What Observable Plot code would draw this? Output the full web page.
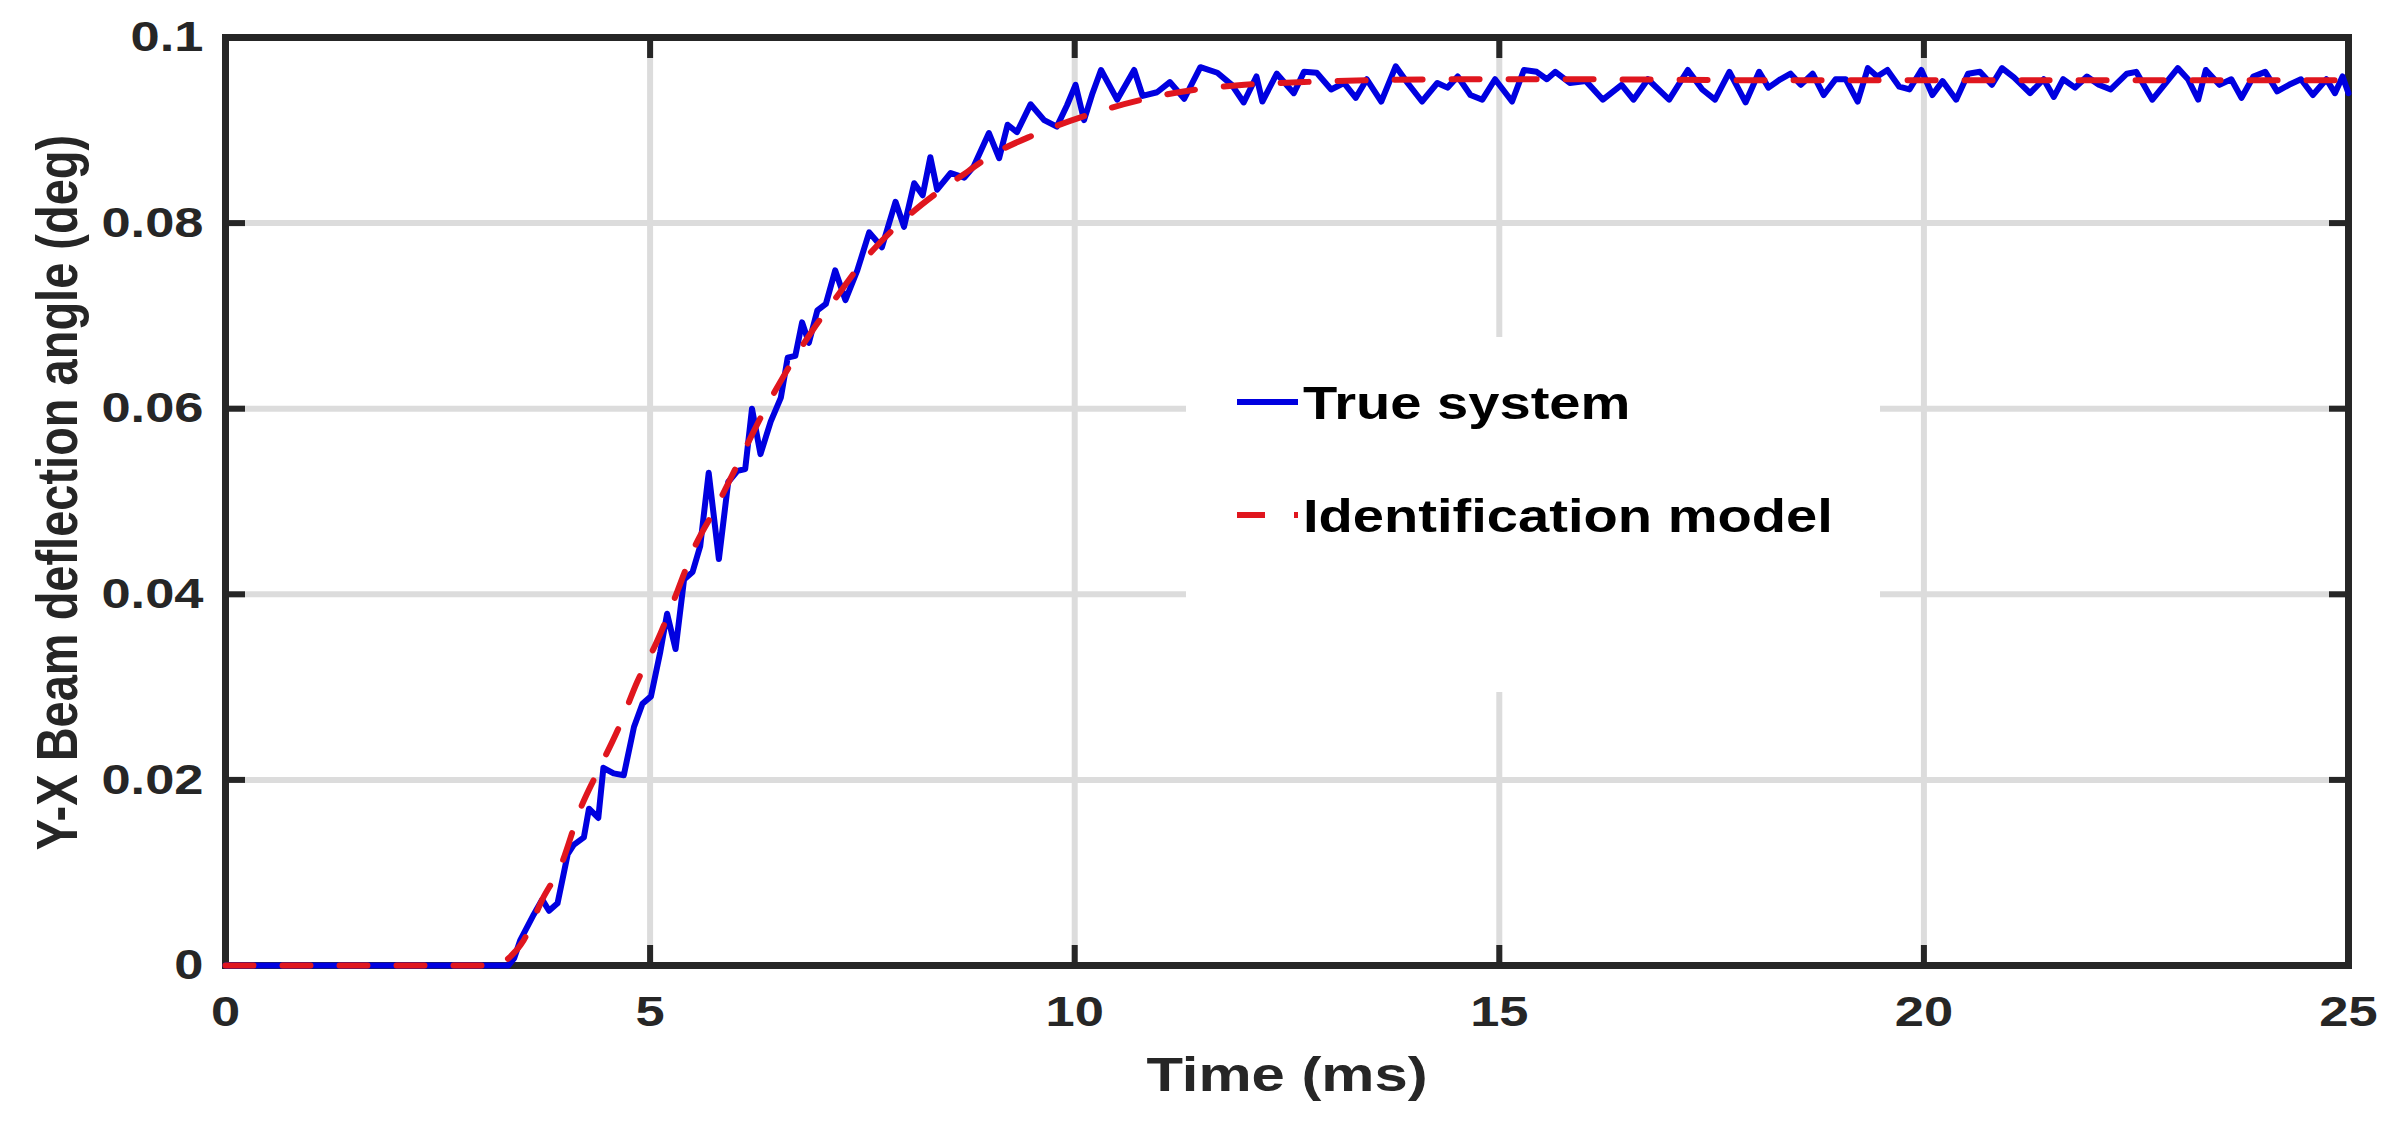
<!DOCTYPE html>
<html>
<head>
<meta charset="utf-8">
<script src="https://cdn.jsdelivr.net/npm/d3@7"></script>
<script src="https://cdn.jsdelivr.net/npm/@observablehq/plot@0.6"></script>
<style>
html, body { margin: 0; padding: 0; background: #fff; overflow: hidden; }
#wrap { position: relative; width: 2401px; height: 1123px; background: #fff; }
#wrap > svg { display: block; }
#legend { position: absolute; left: 1186px; top: 337px; width: 694px; height: 355px; background: #fff; }
</style>
</head>
<body>
<div id="wrap"><div id="legend"></div></div>
<script>
// ---- data ----
const xTicks = [0, 5, 10, 15, 20, 25];
const yTicks = [0, 0.02, 0.04, 0.06, 0.08, 0.1];
const xLabel = "Time (ms)";
const yLabel = "Y-X Beam deflection angle (deg)";
const seriesNames = ["True system", "Identification model"];
const seriesColors = ["#0000e0", "#e0161e"];

const trueT = [0, 3.33, 3.40, 3.47, 3.63, 3.73, 3.81, 3.91, 4.03, 4.10, 4.22, 4.28, 4.39, 4.45, 4.57, 4.69, 4.81, 4.91, 5.01, 5.12, 5.20, 5.30, 5.40, 5.50, 5.59, 5.69, 5.81, 5.92, 6.03, 6.12, 6.20, 6.30, 6.42, 6.54, 6.62, 6.71, 6.79, 6.87, 6.97, 7.07, 7.18, 7.30, 7.44, 7.58, 7.73, 7.89, 7.99, 8.11, 8.21, 8.30, 8.38, 8.54, 8.70, 8.81, 8.99, 9.11, 9.21, 9.32, 9.48, 9.64, 9.79, 9.91, 10.01, 10.11, 10.21, 10.31, 10.50, 10.70, 10.80, 10.97, 11.12, 11.29, 11.48, 11.68, 11.85, 11.99, 12.14, 12.21, 12.38, 12.58, 12.70, 12.85, 13.02, 13.17, 13.31, 13.44, 13.61, 13.78, 13.92, 14.09, 14.27, 14.39, 14.51, 14.66, 14.80, 14.95, 15.15, 15.29, 15.44, 15.56, 15.66, 15.83, 16.02, 16.22, 16.44, 16.58, 16.75, 17.00, 17.22, 17.39, 17.54, 17.71, 17.90, 18.06, 18.17, 18.31, 18.43, 18.55, 18.69, 18.82, 18.96, 19.08, 19.22, 19.34, 19.45, 19.57, 19.71, 19.83, 19.97, 20.10, 20.22, 20.38, 20.52, 20.66, 20.80, 20.92, 21.06, 21.25, 21.41, 21.53, 21.64, 21.78, 21.92, 22.06, 22.20, 22.39, 22.50, 22.69, 22.85, 22.99, 23.11, 23.23, 23.32, 23.48, 23.62, 23.74, 23.88, 24.02, 24.16, 24.30, 24.44, 24.58, 24.74, 24.84, 24.93, 25.00];
const trueV = [0, 0, 0.0008, 0.0027, 0.0055, 0.0071, 0.0059, 0.0067, 0.0120, 0.0130, 0.0138, 0.0169, 0.0159, 0.0213, 0.0207, 0.0205, 0.0257, 0.0282, 0.0290, 0.0338, 0.0379, 0.0341, 0.0416, 0.0424, 0.0452, 0.0531, 0.0438, 0.0521, 0.0533, 0.0535, 0.0600, 0.0551, 0.0586, 0.0612, 0.0655, 0.0657, 0.0693, 0.0671, 0.0706, 0.0713, 0.0749, 0.0717, 0.0749, 0.0790, 0.0774, 0.0823, 0.0796, 0.0843, 0.0830, 0.0871, 0.0836, 0.0854, 0.0849, 0.0861, 0.0897, 0.0870, 0.0906, 0.0898, 0.0928, 0.0911, 0.0904, 0.0927, 0.0949, 0.0911, 0.0940, 0.0965, 0.0933, 0.0965, 0.0937, 0.0941, 0.0952, 0.0934, 0.0968, 0.0962, 0.0949, 0.0930, 0.0958, 0.0931, 0.0961, 0.0940, 0.0963, 0.0962, 0.0944, 0.0951, 0.0935, 0.0955, 0.0931, 0.0969, 0.0951, 0.0931, 0.0951, 0.0946, 0.0958, 0.0938, 0.0933, 0.0955, 0.0931, 0.0965, 0.0963, 0.0955, 0.0963, 0.0951, 0.0953, 0.0933, 0.0949, 0.0933, 0.0955, 0.0933, 0.0965, 0.0944, 0.0933, 0.0963, 0.0930, 0.0963, 0.0946, 0.0955, 0.0961, 0.0949, 0.0961, 0.0938, 0.0955, 0.0955, 0.0931, 0.0967, 0.0958, 0.0965, 0.0947, 0.0944, 0.0965, 0.0938, 0.0953, 0.0933, 0.0961, 0.0963, 0.0949, 0.0967, 0.0957, 0.0940, 0.0955, 0.0936, 0.0955, 0.0946, 0.0958, 0.0949, 0.0944, 0.0961, 0.0963, 0.0933, 0.0951, 0.0967, 0.0955, 0.0933, 0.0965, 0.0949, 0.0955, 0.0935, 0.0958, 0.0963, 0.0942, 0.0949, 0.0955, 0.0938, 0.0955, 0.0940, 0.0958, 0.0940];

const modelT = [0, 3.22, 3.31, 3.51, 3.73, 3.95, 4.18, 4.40, 4.62, 4.85, 5.09, 5.32, 5.51, 5.79, 6.03, 6.30, 6.54, 6.91, 7.20, 7.52, 8.03, 8.34, 8.70, 9.00, 9.52, 10.17, 10.79, 11.44, 12.0, 12.7, 13.5, 14.5, 16, 18, 20, 22.5, 25];
const modelV = [0, 0, 0.0006, 0.0027, 0.0071, 0.0108, 0.0169, 0.0212, 0.0254, 0.0306, 0.0351, 0.0403, 0.0448, 0.0496, 0.0540, 0.0590, 0.0630, 0.0684, 0.0721, 0.0760, 0.0807, 0.0830, 0.0853, 0.0872, 0.0895, 0.0917, 0.0933, 0.0944, 0.0949, 0.0952, 0.0954, 0.0955, 0.0955, 0.0954, 0.0954, 0.0954, 0.0954];

const trueData = trueT.map((t, i) => ({t, v: trueV[i]}));
const modelData = modelT.map((t, i) => ({t, v: modelV[i]}));

const axisColor = "#262626";
const gridColor = "#dcdcdc";
const dash = "28,29";

const chart = Plot.plot({
  width: 2401,
  height: 1123,
  marginLeft: 225,
  marginRight: 53,
  marginTop: 37,
  marginBottom: 158,
  x: {domain: [0, 25]},
  y: {domain: [0, 0.1]},
  style: {
    fontFamily: "'Liberation Sans', Arial, sans-serif",
    fontWeight: "bold",
    fontSize: "43px",
    color: axisColor,
    background: "#fff"
  },
  marks: [
    Plot.gridX(xTicks.slice(1, -1), {stroke: gridColor, strokeOpacity: 1, strokeWidth: 6}),
    Plot.gridY(yTicks.slice(1, -1), {stroke: gridColor, strokeOpacity: 1, strokeWidth: 6}),
    Plot.frame({stroke: axisColor, strokeWidth: 7}),
    Plot.axisX(xTicks, {anchor: "bottom", tickSize: -20, tickPadding: 50, strokeWidth: 6, stroke: axisColor, tickFormat: d => String(d), label: null}),
    Plot.axisX(xTicks, {anchor: "top", tickSize: -20, strokeWidth: 6, stroke: axisColor, tickFormat: () => "", label: null}),
    Plot.axisY(yTicks, {anchor: "left", tickSize: -20, tickPadding: 42, strokeWidth: 6, stroke: axisColor, tickFormat: d => String(d), label: null}),
    Plot.axisY(yTicks, {anchor: "right", tickSize: -20, strokeWidth: 6, stroke: axisColor, tickFormat: () => "", label: null}),
    Plot.line(trueData, {x: "t", y: "v", stroke: seriesColors[0], strokeWidth: 6, strokeLinejoin: "round"}),
    Plot.line(modelData, {x: "t", y: "v", stroke: seriesColors[1], strokeWidth: 6, strokeDasharray: dash, curve: "monotone-x"}),
    Plot.text([xLabel], {text: d => d, frameAnchor: "bottom", dy: 125, lineAnchor: "bottom", textAnchor: "middle", fontSize: 49, fill: axisColor}),
    Plot.text([yLabel], {text: d => d, frameAnchor: "left", rotate: -90, dx: -167, dy: -9, lineAnchor: "middle", textAnchor: "middle", fontSize: 47, fill: axisColor})
  ]
});

const wrap = document.getElementById("wrap");
wrap.insertBefore(chart, wrap.firstChild);

// the reference figure is stretched horizontally: widen glyphs around their anchor
const stretch = 1.22;
chart.querySelectorAll("text").forEach(el => {
  if (!el.textContent) return;
  const bb = el.getBBox();
  const base = el.getAttribute("transform") || "";
  if (el.textContent === yLabel) {
    const cy = bb.y + bb.height / 2;
    el.setAttribute("transform", `${base} translate(0,${cy}) scale(1,${stretch}) translate(0,${-cy})`);
  } else {
    const ta = getComputedStyle(el).textAnchor;
    const ax = ta === "end" ? bb.x + bb.width : ta === "middle" ? bb.x + bb.width / 2 : bb.x;
    el.setAttribute("transform", `${base} translate(${ax},0) scale(${stretch},1) translate(${-ax},0)`);
  }
});

// legend (white box without border, hiding the grid behind it)
const lg = d3.select("#legend").append("svg")
  .attr("width", 694).attr("height", 355)
  .style("display", "block");
const rows = [{y: 65, base: 82, dash: null}, {y: 178, base: 195, dash}];
seriesNames.forEach((name, i) => {
  const r = rows[i];
  lg.append("line")
    .attr("x1", 51).attr("x2", 112).attr("y1", r.y).attr("y2", r.y)
    .attr("stroke", seriesColors[i]).attr("stroke-width", 6)
    .attr("stroke-dasharray", r.dash);
  lg.append("text")
    .attr("x", 117).attr("y", r.base)
    .attr("font-family", "'Liberation Sans', Arial, sans-serif")
    .attr("font-weight", "bold").attr("font-size", 46)
    .attr("fill", "#000")
    .attr("transform", `translate(117,0) scale(${stretch},1) translate(-117,0)`)
    .text(name);
});
</script>
</body>
</html>
